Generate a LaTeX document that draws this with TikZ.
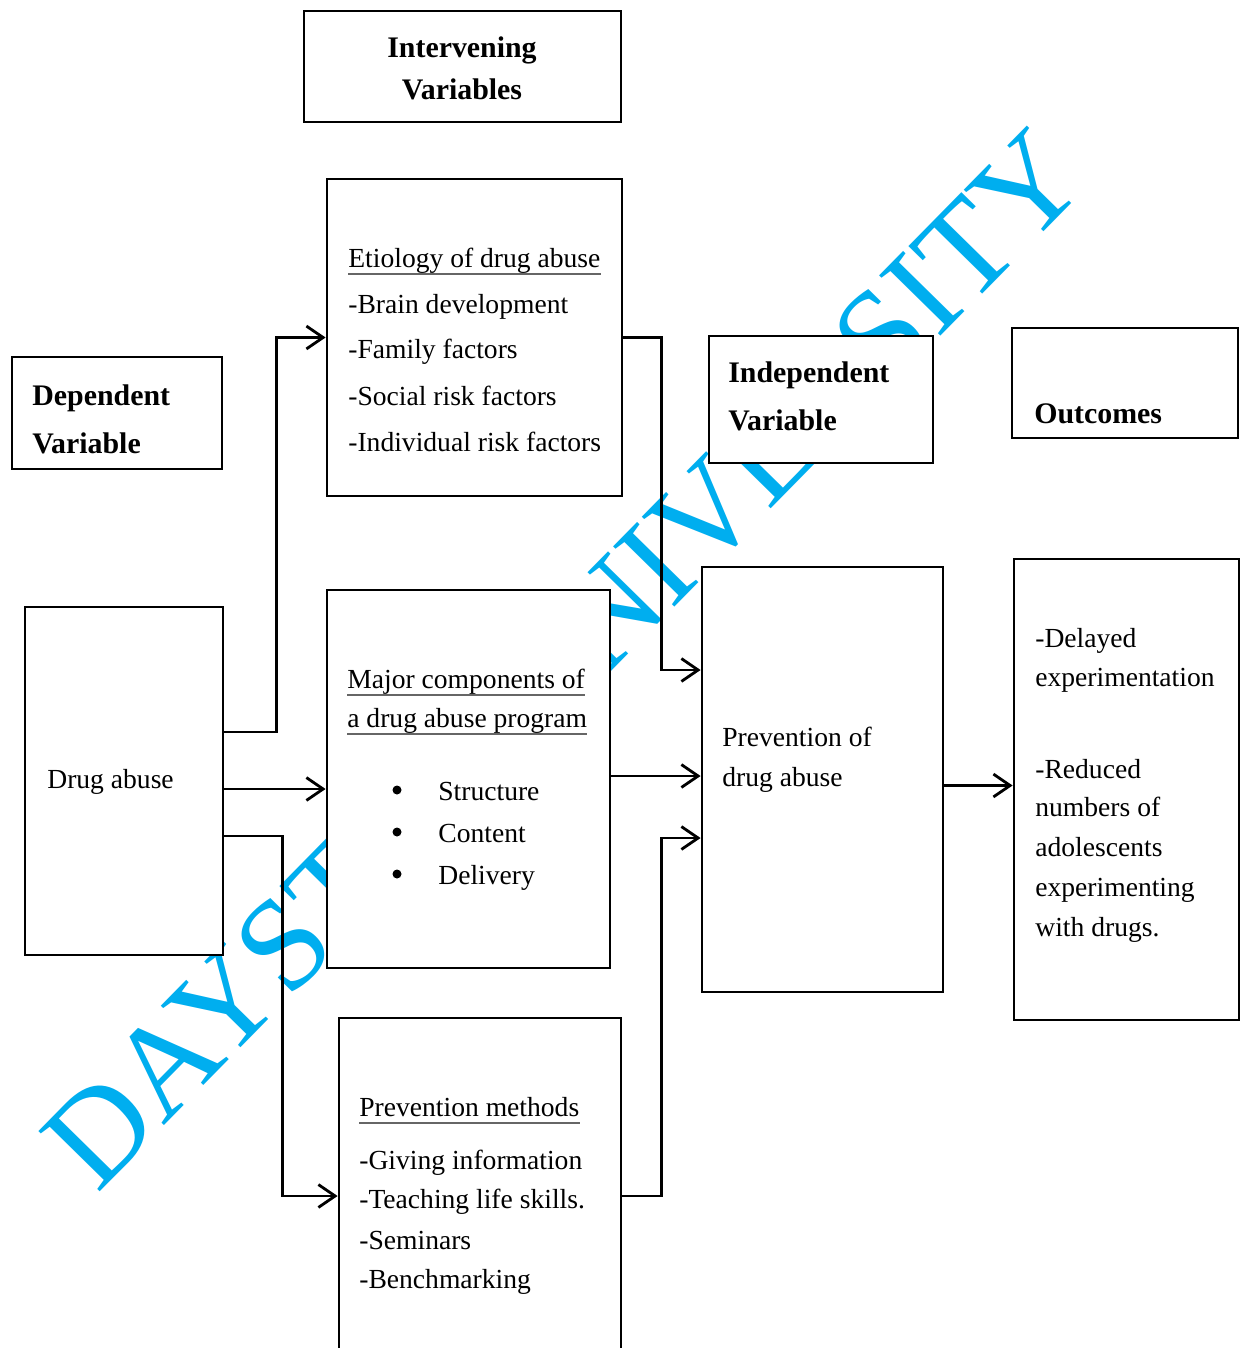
\documentclass[tikz,border=0pt]{standalone}
\usepackage{fontspec}
\setmainfont{Liberation Serif}
\usetikzlibrary{arrows.meta,calc,fit}
\definecolor{wm}{HTML}{00AEEF}
\begin{document}
\begin{tikzpicture}[x=0.02cm,y=-0.02cm,
  box/.style={draw, line width=1.6pt, fill=white, inner sep=0pt},
  conn/.style={line width=1.6pt, -{Straight Barb[length=9.5pt,width=13pt]}},
  txt/.style={anchor=base west, inner sep=0pt, font=\fontsize{15.7}{18}\selectfont},
  btxt/.style={anchor=base west, inner sep=0pt, font=\fontsize{17}{20}\selectfont\bfseries},
  bul/.style={circle, fill=black, inner sep=0pt, minimum size=0.18cm},
  uline/.style={draw=black!60, line width=1.2pt}]
\fill[white] (0,0) rectangle (1245,1348);
\useasboundingbox (0,0) rectangle (1245,1348);
% watermark
\node[rotate=45.5, anchor=base, text=wm, inner sep=0pt, font=\fontsize{74.7}{80}\selectfont] (wmark) at (594,689) {DAYSTAR UNIVERSITY};
% boxes
\node[box, fit={(304,11) (621,122)}] (interv) {};
\node[box, fit={(327,179) (622,496)}] (etio) {};
\node[box, fit={(12,357) (222,469)}] (dep) {};
\node[box, fit={(709,336) (933,463)}] (indep) {};
\node[box, fit={(1012,328) (1238,438)}] (outc) {};
\node[box, fit={(25,607) (223,955)}] (drug) {};
\node[box, fit={(327,590) (610,968)}] (major) {};
\node[box, fit={(339,1018) (621,1360)}] (pmeth) {};
\node[box, fit={(702,567) (943,992)}] (prev) {};
\node[box, fit={(1014,559) (1239,1020)}] (outbox) {};
% connectors
\coordinate (a1) at ($(drug.east)+(0,-49)$);
\draw[conn] (a1) -- ++(52,0) |- (etio.west);
\coordinate (a2) at ($(drug.east)+(0,8)$);
\draw[conn] (a2) -- (a2 -| major.west);
\coordinate (a3) at ($(drug.east)+(0,55)$);
\coordinate (a3e) at ($(pmeth.west)+(0,7)$);
\draw[conn] (a3) -- ++(58,0) |- (a3e);
\coordinate (a4e) at ($(prev.west)+(0,-109.5)$);
\draw[conn] (etio.east) -- ++(38,0) |- (a4e);
\coordinate (a5) at ($(major.east)+(0,-3)$);
\draw[conn] (a5) -- (a5 -| prev.west);
\coordinate (a6) at ($(pmeth.east)+(0,7)$);
\coordinate (a6e) at ($(prev.west)+(0,58.5)$);
\draw[conn] (a6) -- ++(39,0) |- (a6e);
\coordinate (a7) at ($(prev.east)+(0,6)$);
\draw[conn] (a7) -- (a7 -| outbox.west);
% texts
\node[btxt, anchor=base] (ti1) at (462,58) {Intervening};
\node[btxt, anchor=base] (ti2) at (462,100) {Variables};
\node[btxt] (td1) at (32,405) {Dependent};
\node[btxt] (td2) at (32,453) {Variable};
\node[btxt] (tn1) at (728,382) {Independent};
\node[btxt] (tn2) at (728,430) {Variable};
\node[btxt] (to1) at (1034,423) {Outcomes};
\node[txt] (te0) at (348,267) {Etiology of drug abuse};
\node[txt] (te1) at (348,313) {-Brain development};
\node[txt] (te2) at (348,358) {-Family factors};
\node[txt] (te3) at (348,405) {-Social risk factors};
\node[txt] (te4) at (348,451) {-Individual risk factors};
\draw[uline] ($(te0.base west)+(0,7)$) -- ($(te0.base east)+(0,7)$);
\node[txt] (tdr) at (47,788) {Drug abuse};
\node[txt] (tm1) at (347,688) {Major components of};
\node[txt] (tm2) at (347,727) {a drug abuse program};
\draw[uline] ($(tm1.base west)+(0,7)$) -- ($(tm1.base east)+(0,7)$);
\draw[uline] ($(tm2.base west)+(0,7)$) -- ($(tm2.base east)+(0,7)$);
\node[bul] (b1) at (397,790) {};
\node[bul] (b2) at (397,832) {};
\node[bul] (b3) at (397,874) {};
\node[txt] (tm3) at (438,800) {Structure};
\node[txt] (tm4) at (438,842) {Content};
\node[txt] (tm5) at (438,884) {Delivery};
\node[txt] (tp0) at (359,1116) {Prevention methods};
\draw[uline] ($(tp0.base west)+(0,7)$) -- ($(tp0.base east)+(0,7)$);
\node[txt] (tp1) at (359,1169) {-Giving information};
\node[txt] (tp2) at (359,1208) {-Teaching life skills.};
\node[txt] (tp3) at (359,1249) {-Seminars};
\node[txt] (tp4) at (359,1288) {-Benchmarking};
\node[txt] (tv1) at (722,746) {Prevention of};
\node[txt] (tv2) at (722,786) {drug abuse};
\node[txt] (tq1) at (1035,647) {-Delayed};
\node[txt] (tq2) at (1035,686) {experimentation};
\node[txt] (tq3) at (1035,778) {-Reduced};
\node[txt] (tq4) at (1035,816) {numbers of};
\node[txt] (tq5) at (1035,856) {adolescents};
\node[txt] (tq6) at (1035,896) {experimenting};
\node[txt] (tq7) at (1035,936) {with drugs.};
\end{tikzpicture}
\end{document}
